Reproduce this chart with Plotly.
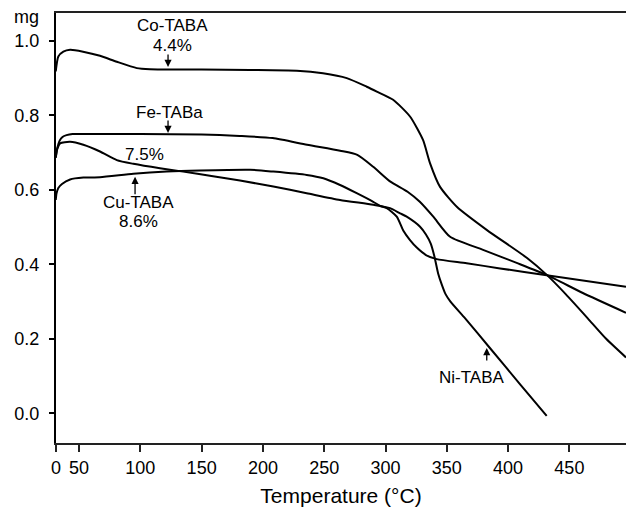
import plotly.graph_objects as go

# ---- data ----
co_T = [31, 33.1, 37.2, 42.7, 53.3, 67.1, 80.8, 97.1, 107.9, 150, 189.5, 227.6, 249, 268.4, 284.7, 292.9, 306.2, 320, 330.6, 336.3, 344.5, 358.4, 382.8, 415.5, 431.8, 447, 465, 480, 496.2]
co_m = [0.918, 0.958, 0.971, 0.976, 0.971, 0.960, 0.944, 0.927, 0.924, 0.923, 0.922, 0.920, 0.913, 0.900, 0.877, 0.864, 0.842, 0.797, 0.734, 0.672, 0.608, 0.554, 0.492, 0.417, 0.371, 0.32, 0.255, 0.20, 0.15]

fe_T = [31, 32.3, 34, 36.5, 39.8, 44.7, 67, 100, 150, 181, 208, 236, 263, 277, 290, 304, 318, 328, 339, 352.7, 379.6, 407, 431.8, 461, 496.2]
fe_m = [0.686, 0.713, 0.731, 0.742, 0.747, 0.750, 0.750, 0.750, 0.749, 0.745, 0.739, 0.721, 0.705, 0.694, 0.662, 0.622, 0.595, 0.568, 0.528, 0.474, 0.439, 0.404, 0.371, 0.323, 0.27]

ni_T = [31, 32, 34.5, 42.7, 53.5, 67.1, 80.8, 94.3, 116, 135, 158, 181.3, 208.5, 235.7, 262.9, 290, 303.7, 311.9, 317.3, 328.2, 333, 337, 340, 343, 346, 349, 353, 365, 385, 410, 431.5]
ni_m = [0.688, 0.707, 0.725, 0.729, 0.721, 0.703, 0.680, 0.670, 0.658, 0.649, 0.637, 0.625, 0.609, 0.591, 0.573, 0.560, 0.551, 0.537, 0.528, 0.501, 0.48, 0.455, 0.42, 0.375, 0.345, 0.32, 0.30, 0.255, 0.176, 0.077, -0.007]

cu_T = [31, 31.6, 33.1, 36.1, 42.7, 53.5, 67.1, 94.3, 121.5, 148.7, 189.5, 208.5, 235.7, 249.3, 262.9, 276.5, 290, 295.6, 301, 309.2, 314.6, 320, 325.5, 333, 341.8, 366.2, 393.5, 431.5, 496.2]
cu_m = [0.573, 0.59, 0.605, 0.616, 0.628, 0.633, 0.634, 0.643, 0.649, 0.652, 0.654, 0.649, 0.640, 0.631, 0.613, 0.591, 0.568, 0.557, 0.551, 0.528, 0.49, 0.465, 0.445, 0.425, 0.414, 0.403, 0.389, 0.371, 0.34]

x_tickvals = [31.2, 50, 100, 150, 200, 250, 300, 350, 400, 450]
x_ticktext = ["0", "50", "100", "150", "200", "250", "300", "350", "400", "450"]
y_tickvals = [0.0, 0.2, 0.4, 0.6, 0.8, 1.0]
y_ticktext = ["0.0", "0.2", "0.4", "0.6", "0.8", "1.0"]

FONT = "Liberation Sans, Arial, Helvetica, sans-serif"

fig = go.Figure()
for T, m in [(co_T, co_m), (fe_T, fe_m), (ni_T, ni_m), (cu_T, cu_m)]:
    fig.add_trace(go.Scatter(x=T, y=m, mode="lines",
                             line=dict(color="black", width=2, shape="spline", smoothing=0.6),
                             showlegend=False, hoverinfo="skip"))

# text labels
labels = [
    ("Co-TABA", 125.9, 1.041),
    ("4.4%", 125.9, 0.988),
    ("Fe-TABa", 123.4, 0.809),
    ("7.5%", 103.8, 0.696),
    ("Cu-TABA", 98.9, 0.567),
    ("8.6%", 98.9, 0.514),
    ("Ni-TABA", 370.6, 0.095),
]
for txt, x, y in labels:
    fig.add_annotation(x=x, y=y, text=txt, showarrow=False,
                       font=dict(family=FONT, size=17, color="black"))

# arrows (head at x,y; tail offset in px)
arrows = [
    (122.6, 0.930, 0, -14),
    (122.6, 0.753, 0, -14),
    (95.7, 0.635, 0, 19),
    (382.6, 0.175, 0, 14),
]
for x, y, ax, ay in arrows:
    fig.add_annotation(x=x, y=y, ax=ax, ay=ay, text="", showarrow=True,
                       arrowhead=2, arrowsize=1.1, arrowwidth=1.3, arrowcolor="black")

fig.add_annotation(xref="paper", yref="paper", x=-0.051, y=0.99, xanchor="center", yanchor="middle",
                   text="mg", showarrow=False, font=dict(family=FONT, size=18, color="black"))

fig.update_layout(
    width=626, height=507,
    margin=dict(l=56, r=0, t=13, b=64),
    paper_bgcolor="white", plot_bgcolor="white",
    font=dict(family=FONT, size=18, color="black"),
    xaxis=dict(range=[31.2, 496.2], tickvals=x_tickvals, ticktext=x_ticktext,
               showgrid=False, zeroline=False, showline=True, linecolor="#222", linewidth=2,
               mirror=True, ticks="outside", ticklen=7, tickwidth=1.5, tickcolor="#222",
               tickfont=dict(size=18),
               title=dict(text="Temperature (°C)", font=dict(size=21), standoff=12)),
    yaxis=dict(range=[-0.0798, 1.075], tickvals=y_tickvals, ticktext=y_ticktext,
               showgrid=False, zeroline=False, showline=True, linecolor="black", linewidth=2,
               ticks="outside", ticklen=5, tickwidth=1.5, tickcolor="black",
               ticklabelstandoff=6, tickfont=dict(size=18)),
)

fig.write_html("out.html")
